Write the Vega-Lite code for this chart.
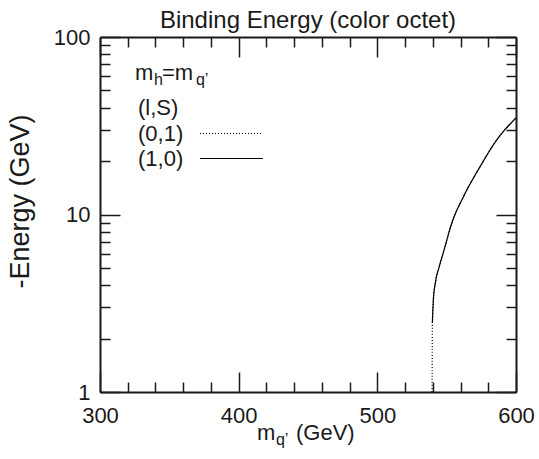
{
  "$schema": "https://vega.github.io/schema/vega-lite/v6.json",
  "width": 416,
  "height": 355,
  "autosize": "none",
  "padding": {"left": 100, "top": 37, "right": 23, "bottom": 67},
  "config": {
    "font": "Liberation Sans",
    "view": {"stroke": null},
    "axis": {
      "grid": false,
      "domainColor": "#1a1a1a",
      "tickColor": "#1a1a1a",
      "labelColor": "#1a1a1a",
      "titleColor": "#1a1a1a",
      "domainWidth": 2,
      "tickWidth": 1.5,
      "labelFontSize": 22,
      "titleFontWeight": "normal",
      "labelOverlap": false,
      "labelFlush": false
    },
    "text": {"color": "#1a1a1a"}
  },
  "title": {
    "text": "Binding Energy (color octet)",
    "fontSize": 24,
    "fontWeight": "normal",
    "color": "#1a1a1a",
    "frame": "group",
    "offset": -7
  },
  "data": {
    "values": [
      {"series": "(0,1)", "m": 539.5, "E": 1.0},
      {"series": "(0,1)", "m": 539.6, "E": 1.8},
      {"series": "(0,1)", "m": 539.7, "E": 2.45},
      {"series": "(0,1)", "m": 540.4, "E": 3.3},
      {"series": "(0,1)", "m": 541.8, "E": 4.1},
      {"series": "(0,1)", "m": 544.7, "E": 5.1},
      {"series": "(0,1)", "m": 548.1, "E": 6.3},
      {"series": "(0,1)", "m": 553.6, "E": 8.9},
      {"series": "(0,1)", "m": 562.1, "E": 12.6},
      {"series": "(0,1)", "m": 574.1, "E": 18.6},
      {"series": "(0,1)", "m": 586.1, "E": 26.3},
      {"series": "(0,1)", "m": 600, "E": 35},
      {"series": "(1,0)", "m": 539.7, "E": 2.45},
      {"series": "(1,0)", "m": 540.4, "E": 3.3},
      {"series": "(1,0)", "m": 541.8, "E": 4.1},
      {"series": "(1,0)", "m": 544.7, "E": 5.1},
      {"series": "(1,0)", "m": 548.1, "E": 6.3},
      {"series": "(1,0)", "m": 553.6, "E": 8.9},
      {"series": "(1,0)", "m": 562.1, "E": 12.6},
      {"series": "(1,0)", "m": 574.1, "E": 18.6},
      {"series": "(1,0)", "m": 586.1, "E": 26.3},
      {"series": "(1,0)", "m": 600, "E": 35}
    ]
  },
  "layer": [
    {
      "mark": {"type": "line", "strokeWidth": 1.2, "color": "#000", "interpolate": "monotone"},
      "encoding": {
        "x": {
          "field": "m", "type": "quantitative",
          "scale": {"domain": [300, 600], "nice": false, "zero": false},
          "axis": {
            "orient": "bottom",
            "values": [300,320,340,360,380,400,420,440,460,480,500,520,540,560,580,600],
            "labelExpr": "datum.value % 100 == 0 ? format(datum.value, 'd') : ''",
            "tickSize": {"condition": {"test": "datum.value % 100 == 0", "value": -20}, "value": -10},
            "labelPadding": 33,
            "title": null
          }
        },
        "y": {
          "field": "E", "type": "quantitative",
          "scale": {"type": "log", "domain": [1, 100], "nice": false},
          "axis": {
            "orient": "left",
            "values": [1,2,3,4,5,6,7,8,9,10,20,30,40,50,60,70,80,90,100],
            "labelExpr": "datum.value == 1 || datum.value == 10 || datum.value == 100 ? format(datum.value, 'd') : ''",
            "tickSize": {"condition": {"test": "datum.value == 1 || datum.value == 10 || datum.value == 100", "value": -20}, "value": -10},
            "labelPadding": 30,
            "title": "-Energy (GeV)",
            "titleFontSize": 27,
            "titleX": -80,
            "titleY": 164,
            "titleAlign": "center",
            "titleBaseline": "middle"
          }
        },
        "strokeDash": {
          "field": "series", "type": "nominal",
          "scale": {"domain": ["(0,1)", "(1,0)"], "range": [[1, 2], [1, 0]]},
          "legend": {
            "orient": "none",
            "legendX": 38,
            "legendY": 61,
            "title": "(l,S)",
            "titleFontSize": 22,
            "titleFontWeight": "normal",
            "titleColor": "#1a1a1a",
            "titlePadding": 2,
            "padding": 0,
            "labelFontSize": 22,
            "labelColor": "#1a1a1a",
            "labelOffset": -105,
            "symbolOffset": 82,
            "symbolSize": 441,
            "symbolType": "M-3,0H3",
            "symbolStrokeColor": "#000",
            "symbolStrokeWidth": 1.2,
            "rowPadding": 2,
            "labelLimit": 200
          }
        }
      }
    },
    {
      "mark": {"type": "line", "opacity": 0},
      "encoding": {
        "x": {
          "field": "m", "type": "quantitative",
          "axis": {
            "orient": "top",
            "values": [300,320,340,360,380,400,420,440,460,480,500,520,540,560,580,600],
            "labels": false,
            "tickSize": {"condition": {"test": "datum.value % 100 == 0", "value": -20}, "value": -10},
            "title": null
          }
        },
        "y": {
          "field": "E", "type": "quantitative",
          "axis": {
            "orient": "right",
            "values": [1,2,3,4,5,6,7,8,9,10,20,30,40,50,60,70,80,90,100],
            "labels": false,
            "tickSize": {"condition": {"test": "datum.value == 1 || datum.value == 10 || datum.value == 100", "value": -20}, "value": -10},
            "title": null
          }
        }
      }
    },
    {
      "data": {"values": [{"label": "m"}]},
      "mark": {"type": "text", "align": "left", "baseline": "alphabetic", "fontSize": 22},
      "encoding": {
        "x": {"datum": 325.2, "type": "quantitative", "axis": null},
        "y": {"datum": 57.3, "type": "quantitative", "axis": null},
        "text": {"field": "label"}
      }
    },
    {
      "data": {"values": [{"label": "h"}]},
      "mark": {"type": "text", "align": "left", "baseline": "alphabetic", "fontSize": 16, "dx": 19, "dy": 5},
      "encoding": {
        "x": {"datum": 325.2, "type": "quantitative", "axis": null},
        "y": {"datum": 57.3, "type": "quantitative", "axis": null},
        "text": {"field": "label"}
      }
    },
    {
      "data": {"values": [{"label": "=m"}]},
      "mark": {"type": "text", "align": "left", "baseline": "alphabetic", "fontSize": 22, "dx": 27},
      "encoding": {
        "x": {"datum": 325.2, "type": "quantitative", "axis": null},
        "y": {"datum": 57.3, "type": "quantitative", "axis": null},
        "text": {"field": "label"}
      }
    },
    {
      "data": {"values": [{"label": "q’"}]},
      "mark": {"type": "text", "align": "left", "baseline": "alphabetic", "fontSize": 16, "dx": 61, "dy": 5},
      "encoding": {
        "x": {"datum": 325.2, "type": "quantitative", "axis": null},
        "y": {"datum": 57.3, "type": "quantitative", "axis": null},
        "text": {"field": "label"}
      }
    },
    {
      "data": {"values": [{"label": "m"}]},
      "mark": {"type": "text", "align": "left", "baseline": "alphabetic", "fontSize": 22},
      "encoding": {
        "x": {"datum": 413.2, "type": "quantitative", "axis": null},
        "y": {"datum": 0.537, "type": "quantitative", "axis": null},
        "text": {"field": "label"}
      }
    },
    {
      "data": {"values": [{"label": "q’"}]},
      "mark": {"type": "text", "align": "left", "baseline": "alphabetic", "fontSize": 16, "dx": 19, "dy": 5},
      "encoding": {
        "x": {"datum": 413.2, "type": "quantitative", "axis": null},
        "y": {"datum": 0.537, "type": "quantitative", "axis": null},
        "text": {"field": "label"}
      }
    },
    {
      "data": {"values": [{"label": "(GeV)"}]},
      "mark": {"type": "text", "align": "left", "baseline": "alphabetic", "fontSize": 22, "dx": 39},
      "encoding": {
        "x": {"datum": 413.2, "type": "quantitative", "axis": null},
        "y": {"datum": 0.537, "type": "quantitative", "axis": null},
        "text": {"field": "label"}
      }
    }
  ],
  "resolve": {"axis": {"x": "independent", "y": "independent"}}
}
